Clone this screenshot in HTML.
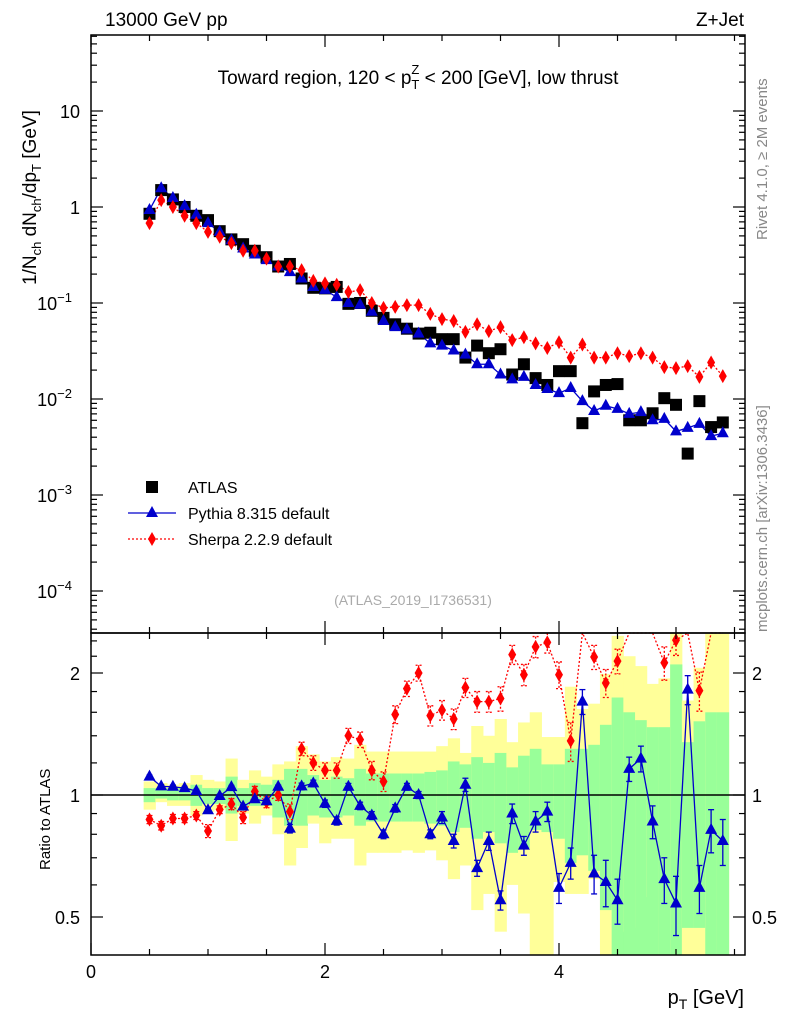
<!DOCTYPE html>
<html><head><meta charset="utf-8"><style>
body{margin:0;background:#fff}
svg{display:block;font-family:"Liberation Sans",sans-serif}
</style></head><body>
<svg id="c" width="786" height="1024" xmlns="http://www.w3.org/2000/svg">
<g id="bands"></g>
<g id="marks"></g>
<g id="axes"></g>
<text x="105" y="26" font-size="19">13000 GeV pp</text>
<text x="744" y="26" font-size="19" text-anchor="end">Z+Jet</text>
<text x="418" y="84" font-size="19" text-anchor="middle">Toward region, 120 &lt; p<tspan font-size="13" dy="5">T</tspan><tspan font-size="13" dx="-8" dy="-15">Z</tspan><tspan dy="10"> &lt; 200 [GeV], low thrust</tspan></text>
<text transform="translate(36,285) rotate(-90)" font-size="19">1/N<tspan font-size="13" dy="5">ch</tspan><tspan dy="-5"> dN</tspan><tspan font-size="13" dy="5">ch</tspan><tspan dy="-5">/dp</tspan><tspan font-size="13" dy="5">T</tspan><tspan dy="-5"> [GeV]</tspan></text>
<text transform="translate(767,240) rotate(-90)" font-size="15" fill="#888">Rivet 4.1.0, ≥ 2M events</text>
<text transform="translate(767,632) rotate(-90)" font-size="15" fill="#888">mcplots.cern.ch [arXiv:1306.3436]</text>
<text x="413" y="605" font-size="14" fill="#aaa" text-anchor="middle">(ATLAS_2019_I1736531)</text>
<text transform="translate(50,870) rotate(-90)" font-size="15">Ratio to ATLAS</text>
<text x="744" y="1004" font-size="20" text-anchor="end">p<tspan font-size="14" dy="5">T</tspan><tspan dy="-5"> [GeV]</tspan></text>
<g>
<rect x="146" y="481" width="12" height="12" fill="#000"/>
<text x="188" y="493" font-size="16">ATLAS</text>
<line x1="128" y1="513" x2="176" y2="513" stroke="#00c" stroke-width="1.3"/>
<polygon points="152,506 146,517 158,517" fill="#00c"/>
<text x="188" y="519" font-size="16">Pythia 8.315 default</text>
<line x1="128" y1="539" x2="176" y2="539" stroke="#f00" stroke-width="1.3" stroke-dasharray="2,2"/>
<polygon points="152,532 156,539 152,546 148,539" fill="#f00"/>
<text x="188" y="545" font-size="16">Sherpa 2.2.9 default</text>
</g>
</svg>
<script>
const xs=[0.5,0.6,0.7,0.8,0.9,1.0,1.1,1.2,1.3,1.4,1.5,1.6,1.7,1.8,1.9,2.0,2.1,2.2,2.3,2.4,2.5,2.6,2.7,2.8,2.9,3.0,3.1,3.2,3.3,3.4,3.5,3.6,3.7,3.8,3.9,4.0,4.1,4.2,4.3,4.4,4.5,4.6,4.7,4.8,4.9,5.0,5.1,5.2,5.3,5.4];
const atlas=[0.85,1.5,1.2,1.0,0.81,0.73,0.56,0.46,0.41,0.35,0.30,0.24,0.255,0.18,0.144,0.142,0.147,0.098,0.10,0.083,0.07,0.06,0.054,0.048,0.049,0.042,0.042,0.027,0.036,0.030,0.033,0.018,0.023,0.0165,0.014,0.0195,0.0195,0.0056,0.012,0.014,0.0143,0.006,0.006,0.0071,0.0102,0.0087,0.0027,0.0095,0.0051,0.0057];
const pythia=[0.93,1.57,1.24,1.02,0.83,0.68,0.55,0.45,0.37,0.32,0.28,0.24,0.21,0.18,0.147,0.137,0.115,0.10,0.096,0.081,0.065,0.056,0.053,0.048,0.038,0.036,0.032,0.029,0.023,0.023,0.018,0.016,0.017,0.014,0.0127,0.0115,0.013,0.0095,0.0075,0.0085,0.0079,0.0070,0.0073,0.0060,0.0062,0.0046,0.0050,0.0055,0.0041,0.0044];
const sherpa=[0.68,1.18,1.0,0.81,0.68,0.55,0.49,0.42,0.35,0.35,0.29,0.24,0.24,0.22,0.17,0.16,0.155,0.13,0.136,0.10,0.089,0.091,0.095,0.095,0.077,0.068,0.065,0.050,0.060,0.051,0.056,0.041,0.044,0.038,0.034,0.039,0.027,0.037,0.027,0.027,0.030,0.028,0.030,0.027,0.0215,0.021,0.022,0.017,0.024,0.0173];
const pythiaRatio=[1.11,1.05,1.048,1.04,1.023,0.917,0.994,1.046,0.936,0.976,0.965,1.048,0.826,1.05,1.068,0.952,0.863,1.048,0.94,0.89,0.80,0.927,1.048,1.0,0.80,0.88,0.77,1.06,0.66,0.77,0.55,0.90,0.75,0.86,0.91,0.59,0.68,1.70,0.64,0.61,0.55,1.16,1.23,0.86,0.62,0.54,1.82,0.59,0.82,0.77];
const pythiaErr=[0.01,0.01,0.01,0.01,0.01,0.01,0.01,0.01,0.01,0.01,0.01,0.01,0.02,0.02,0.02,0.02,0.02,0.02,0.02,0.02,0.02,0.02,0.02,0.02,0.02,0.03,0.03,0.04,0.03,0.04,0.03,0.05,0.04,0.05,0.05,0.05,0.06,0.12,0.07,0.08,0.07,0.08,0.09,0.08,0.08,0.09,0.15,0.08,0.10,0.10];
const sherpaRatio=[0.87,0.84,0.875,0.875,0.89,0.815,0.92,0.95,0.88,1.02,0.96,1.0,0.91,1.3,1.2,1.15,1.15,1.4,1.37,1.15,1.08,1.58,1.83,2.0,1.57,1.62,1.54,1.84,1.70,1.70,1.73,2.22,1.98,2.32,2.38,1.98,1.36,2.8,2.19,1.89,2.14,2.8,2.8,2.8,2.12,2.41,2.8,1.81,2.8,2.8];
const sherpaErr=[0.02,0.02,0.02,0.02,0.02,0.03,0.02,0.03,0.03,0.03,0.03,0.03,0.04,0.05,0.05,0.05,0.05,0.06,0.06,0.06,0.06,0.08,0.08,0.09,0.09,0.09,0.09,0.1,0.1,0.1,0.12,0.12,0.12,0.14,0.14,0.15,0.15,0.2,0.15,0.15,0.15,0.2,0.2,0.2,0.2,0.2,0.2,0.2,0.2,0.2];
const yelHi=[1.08,1.07,1.06,1.07,1.12,1.09,1.08,1.23,1.09,1.15,1.11,1.19,1.21,1.32,1.26,1.21,1.24,1.23,1.33,1.28,1.28,1.28,1.28,1.28,1.28,1.32,1.38,1.27,1.48,1.40,1.54,1.35,1.51,1.60,1.39,1.39,1.85,1.63,1.68,1.99,2.47,2.2,2.08,1.88,1.94,2.6,1.71,2.06,2.5,2.5];
const yelLo=[0.92,0.96,0.94,0.94,0.89,0.91,0.92,0.77,0.90,0.85,0.89,0.80,0.67,0.74,0.85,0.76,0.78,0.78,0.67,0.72,0.72,0.72,0.73,0.72,0.73,0.69,0.62,0.67,0.52,0.57,0.46,0.60,0.51,0.40,0.40,0.61,0.57,0.57,0.62,0.40,0.40,0.46,0.47,0.56,0.40,0.40,0.40,0.40,0.40,0.40];
const grnHi=[1.04,1.04,1.04,1.04,1.06,1.04,1.04,1.11,1.04,1.07,1.06,1.09,1.16,1.16,1.12,1.09,1.11,1.10,1.16,1.13,1.13,1.13,1.13,1.13,1.14,1.15,1.21,1.19,1.24,1.20,1.27,1.17,1.25,1.30,1.19,1.19,1.30,1.30,1.33,1.49,1.74,1.60,1.53,1.47,1.47,2.1,1.35,1.52,1.6,1.6];
const grnLo=[0.96,0.98,0.97,0.97,0.94,0.95,0.95,0.90,0.94,0.94,0.94,0.88,0.84,0.84,0.89,0.88,0.88,0.89,0.84,0.86,0.86,0.86,0.86,0.86,0.85,0.84,0.81,0.83,0.78,0.81,0.76,0.72,0.74,0.82,0.81,0.78,0.68,0.71,0.65,0.52,0.40,0.40,0.40,0.40,0.40,0.40,0.47,0.47,0.40,0.40];
const xTicks=[0,2,4];
const mainTicks=[{v:10,t:"10"},{v:1,t:"1"},{v:0.1,t:"10",e:"−1"},{v:0.01,t:"10",e:"−2"},{v:0.001,t:"10",e:"−3"},{v:0.0001,t:"10",e:"−4"}];
const ratioTicks=[0.5,1,2];

const NS="http://www.w3.org/2000/svg";
const L=91,R=745,T=35,MB=633,RB=955;
const X=v=>L+v*117;
const Ym=v=>207-96*Math.log10(v);
const Yr=v=>795-122*Math.log2(v);
const clipR=y=>Math.max(MB,Math.min(RB,y));
function mk(tag,attrs,parent){const e=document.createElementNS(NS,tag);for(const k in attrs)e.setAttribute(k,attrs[k]);document.getElementById(parent).appendChild(e);return e;}
xs.forEach((x,i)=>{
 let e=mk('rect',{x:X(x-0.05),y:clipR(Yr(yelHi[i])),width:117*0.1+0.5,height:clipR(Yr(yelLo[i]))-clipR(Yr(yelHi[i])),fill:'#ffff99'},'bands');
 
 
 e=mk('rect',{x:X(x-0.05),y:clipR(Yr(grnHi[i])),width:117*0.1+0.5,height:clipR(Yr(grnLo[i]))-clipR(Yr(grnHi[i])),fill:'#99ff99'},'bands');
 
 
});
let ln=mk('line',{x1:L,x2:R,y1:Yr(1),y2:Yr(1),stroke:'#000','stroke-width':1.5},'bands');


function poly(vals,yf,color,dash,name,clip){
 const pts=xs.map((x,i)=>X(x)+','+(clip?clipR(yf(vals[i])):yf(vals[i]))).join(' ');
 const p=mk('polyline',{points:pts,fill:'none',stroke:color,'stroke-width':1.3},'marks');
 if(dash)p.setAttribute('stroke-dasharray','2,2');
 
 
}
function tri(x,y,name){const p=mk('polygon',{points:`${x},${y-7} ${x-6},${y+4} ${x+6},${y+4}`,fill:'#00c'},'marks');}
function dia(x,y,name){const p=mk('polygon',{points:`${x},${y-7} ${x+4},${y} ${x},${y+7} ${x-4},${y}`,fill:'#f00'},'marks');}
function err(x,v,e,color,dash,name){
 const y1=clipR(Yr(v+e)),y2=clipR(Yr(Math.max(0.05,v-e)));
 const l=mk('line',{x1:x,x2:x,y1:y1,y2:y2,stroke:color,'stroke-width':1.3},'marks');
 if(dash)l.setAttribute('stroke-dasharray','2,2');
 
 
 [y1,y2].forEach(y=>{if(y<=MB||y>=RB)return;const c=mk('line',{x1:x-3,x2:x+3,y1:y,y2:y,stroke:color,'stroke-width':1.3},'marks');if(dash)c.setAttribute('stroke-dasharray','2,2');
 
 });
}
poly(sherpa,Ym,'#f00',true,'sherpa-main-line');
poly(pythia,Ym,'#00c',false,'pythia-main-line');
xs.forEach((x,i)=>{
 const r=mk('rect',{x:X(x)-6,y:Ym(atlas[i])-6,width:12,height:12,fill:'#000'},'marks');
 
 
 tri(X(x),Ym(pythia[i]),'pythia-point');
 dia(X(x),Ym(sherpa[i]),'sherpa-point');
});
poly(sherpaRatio,Yr,'#f00',true,'sherpa-ratio-line',true);
poly(pythiaRatio,Yr,'#00c',false,'pythia-ratio-line',true);
xs.forEach((x,i)=>{
 err(X(x),sherpaRatio[i],sherpaErr[i],'#f00',true,'sherpa-ratio-error');
 err(X(x),pythiaRatio[i],pythiaErr[i],'#00c',false,'pythia-ratio-error');
 if(sherpaRatio[i]<2.5) dia(X(x),Yr(sherpaRatio[i]),'sherpa-ratio-point');
 tri(X(x),Yr(pythiaRatio[i]),'pythia-ratio-point');
});
[[T,MB],[MB,RB]].forEach(([a,b],k)=>{
 const f=mk('rect',{x:L,y:a,width:R-L,height:b-a,fill:'none',stroke:'#000','stroke-width':1.5},'axes');
 
 
});
function tick(x1,y1,x2,y2){const t=mk('line',{x1,y1,x2,y2,stroke:'#000','stroke-width':1.2},'axes');}
for(let v=0;v<=5.5;v+=0.5){
 const len=(v%2===0)?12:6,x=X(v);
 tick(x,T,x,T+len);tick(x,MB,x,MB-len);tick(x,MB,x,MB+len);tick(x,RB,x,RB-len);
}
xTicks.forEach(v=>{const t=mk('text',{x:X(v),y:978,'font-size':18,'text-anchor':'middle'},'axes');t.textContent=v;});
for(let d=-5;d<=1;d++){for(let m=1;m<10;m++){const v=m*Math.pow(10,d);const y=Ym(v);if(y<T||y>MB)continue;const len=m===1?12:6;tick(L,y,L+len,y);tick(R,y,R-len,y);}}
mainTicks.forEach(o=>{const t=mk('text',{x:80,y:Ym(o.v)+7,'font-size':18,'text-anchor':'end'},'axes');t.textContent=o.t;if(o.e){t.setAttribute('x',72);const s=document.createElementNS(NS,'tspan');s.setAttribute('font-size',13);s.setAttribute('dy',-8);s.textContent=o.e;t.appendChild(s);}});
[0.4,0.5,0.6,0.7,0.8,0.9,1,1.2,1.4,1.6,1.8,2,2.2,2.4].forEach(v=>{const y=Yr(v);if(y<MB||y>RB)return;const len=ratioTicks.includes(v)?12:6;tick(L,y,L+len,y);tick(R,y,R-len,y);});
ratioTicks.forEach(v=>{
 let t=mk('text',{x:80,y:Yr(v)+7,'font-size':18,'text-anchor':'end'},'axes');t.textContent=v;
 t=mk('text',{x:752,y:Yr(v)+7,'font-size':18},'axes');t.textContent=v;
});
</script>
</body></html>
